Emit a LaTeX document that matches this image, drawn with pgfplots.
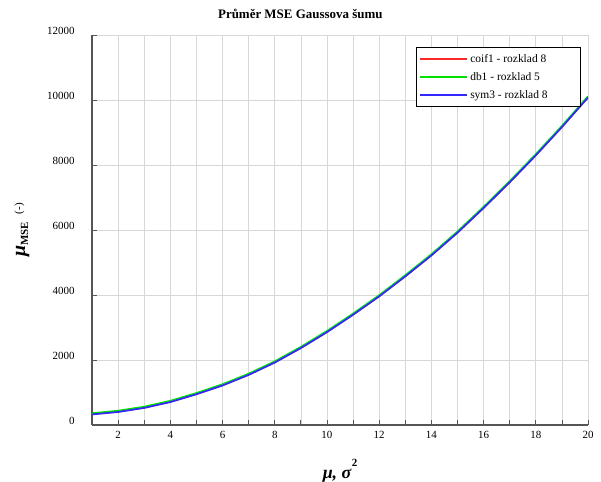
\documentclass[border=0pt]{standalone}
\usepackage{fontspec}
\setmainfont{Liberation Serif}
\usepackage{pgfplots}
\pgfplotsset{compat=1.18}
\definecolor{cred}{RGB}{255,40,40}
\definecolor{cgreen}{RGB}{0,225,0}
\definecolor{cblue}{RGB}{50,40,255}
\definecolor{axgray}{RGB}{85,85,85}
\definecolor{grgray}{RGB}{215,215,215}
\newcommand{\lent}[1]{#1\hspace*{28bp}\mbox{}}
\begin{document}
\begin{tikzpicture}
\path[use as bounding box] (0,0) rectangle (601bp,482bp);
\begin{axis}[
  at={(92bp,57bp)}, anchor=south west,
  scale only axis, width=496bp, height=390bp,
  xmin=1, xmax=20, ymin=0, ymax=12000,
  axis x line*=bottom, axis y line*=left,
  axis line style={axgray, line width=1.2pt, -},
  xtick={1,2,...,20},
  xticklabels={,2,,4,,6,,8,,10,,12,,14,,16,,18,,20},
  ytick={0,2000,...,12000},
  tick style={axgray, line width=0.8pt},
  tick align=inside,
  major tick length=5bp,
  grid=major,
  grid style={grgray, line width=0.6pt},
  /pgf/number format/assume math mode=true,
  scaled y ticks=false,
  yticklabel={\pgfmathprintnumber[1000 sep={}]{\tick}},
  tick label style={font=\fontsize{11}{13}\selectfont},
  yticklabel style={yshift=4bp, xshift=-14bp},
  xticklabel style={yshift=-3bp},
  title={\textbf{Průměr MSE Gaussova šumu}},
  title style={at={(axis description cs:0.42,1)}, anchor=base, yshift=11bp, font=\fontsize{13}{15}\selectfont},
  xlabel={\textbf{\textit{μ, σ}}\raisebox{12bp}{\fontsize{11}{13}\selectfont\textbf{2}}},
  xlabel style={at={(axis description cs:0.5,0)}, anchor=center, yshift=-46bp, font=\fontsize{18}{20}\selectfont},
  ylabel={\textbf{\textit{μ}}\raisebox{-3bp}{\fontsize{11}{12}\selectfont\textbf{MSE}}\hspace{8bp}\raisebox{3bp}{\fontsize{11}{12}\selectfont(-)}},
  ylabel style={at={(axis description cs:-0.141,0.5)}, anchor=center, font=\fontsize{20}{22}\selectfont},
  legend style={at={(axis description cs:0.653,0.969)}, anchor=north west,
    draw=black, line width=0.8pt, fill=white, font=\fontsize{11.5}{13}\selectfont,
    inner xsep=3bp, inner ysep=5bp, row sep=4.5bp,
    /tikz/every even column/.append style={column sep=0bp}},
  legend cell align=left,
  legend image code/.code={\draw[#1, line width=2bp] (0bp,0bp) -- (47bp,0bp);},
]
\addplot[cred, line width=1.6pt] coordinates {
(1,335) (2,410) (3,535) (4,715) (5,955) (6,1225) (7,1550) (8,1930) (9,2375) (10,2865)
(11,3400) (12,3965) (13,4580) (14,5225) (15,5925) (16,6685) (17,7475) (18,8305) (19,9175) (20,10085)};
\addlegendentry{\lent{coif1 - rozklad 8}}
\addplot[cgreen, line width=1.6pt] coordinates {
(1,365) (2,440) (3,565) (4,745) (5,985) (6,1255) (7,1580) (8,1960) (9,2405) (10,2895)
(11,3430) (12,3995) (13,4610) (14,5255) (15,5955) (16,6715) (17,7505) (18,8335) (19,9205) (20,10115)};
\addlegendentry{\lent{db1 - rozklad 5}}
\addplot[cblue, line width=1.7pt] coordinates {
(1,325) (2,400) (3,525) (4,705) (5,945) (6,1215) (7,1540) (8,1920) (9,2365) (10,2855)
(11,3390) (12,3955) (13,4570) (14,5215) (15,5915) (16,6675) (17,7465) (18,8295) (19,9165) (20,10075)};
\addlegendentry{\lent{sym3 - rozklad 8}}
\end{axis}
\end{tikzpicture}
\end{document}
